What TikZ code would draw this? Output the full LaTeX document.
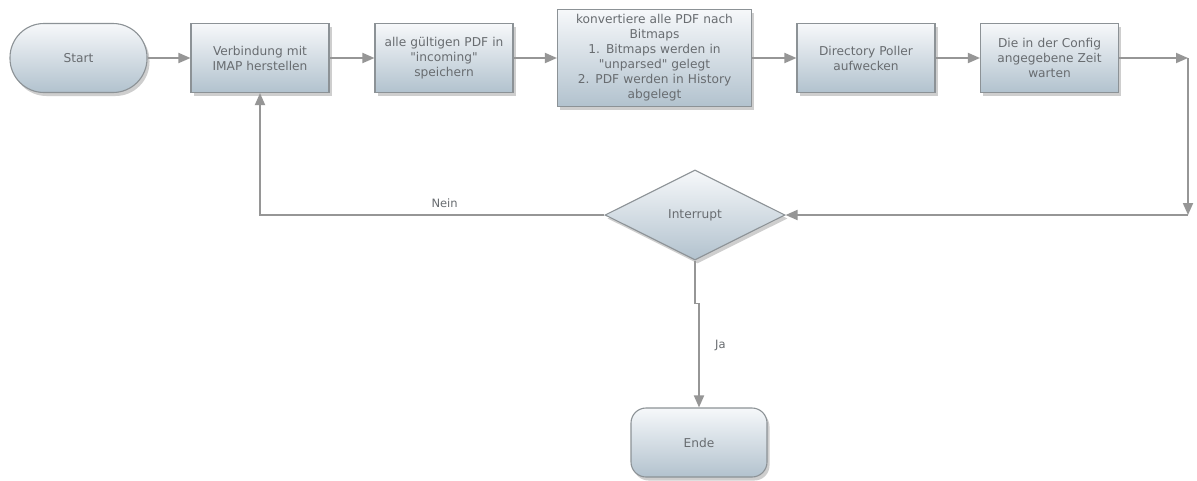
\documentclass[tikz,border=0pt]{standalone}
\usepackage{fontspec}
\setmainfont{DejaVu Sans}[Ligatures=TeXOff]
\usetikzlibrary{arrows.meta,shapes.geometric,shadows,calc}

\definecolor{boxtop}{RGB}{246,248,250}
\definecolor{boxbot}{RGB}{178,194,206}
\definecolor{boxline}{RGB}{140,146,150}
\definecolor{wire}{RGB}{150,150,150}
\definecolor{txt}{RGB}{104,108,112}

\tikzset{
  shaded/.style={draw=boxline, line width=1.1pt, top color=boxtop, bottom color=boxbot,
    drop shadow={shadow xshift=2.5pt, shadow yshift=-3.5pt, opacity=.35, fill=black!55},
    text=txt, font=\fontsize{12.2}{15}\selectfont, align=center, inner sep=2pt},
  procbox/.style={shaded, rectangle, minimum width=136pt, minimum height=69pt, text width=134pt},
  pill/.style={shaded, rectangle, rounded corners=34pt, minimum width=137pt, minimum height=69pt},
  endbox/.style={shaded, rectangle, rounded corners=15pt, minimum width=136pt, minimum height=69pt},
  decision/.style={shaded, diamond, aspect=2, minimum width=180pt, minimum height=90pt, inner sep=0pt},
  arr/.style={draw=wire, line width=1.8pt, -{Triangle[length=12pt,width=10pt]}},
  lbl/.style={text=txt, font=\fontsize{11.5}{13}\selectfont}
}

\begin{document}
\begin{tikzpicture}[x=1pt, y=-1pt]
\useasboundingbox[fill=white] (0,0) rectangle (1197,480);

% process chain along the top
\node[pill]     (start) at (78.5,58)  {Start};
\node[procbox]  (b1)    at (260,58)   {Verbindung mit\\IMAP herstellen};
\node[procbox]  (b2)    at (444,58)   {alle gültigen PDF in\\"incoming"\\speichern};
\node[procbox, minimum width=193pt, minimum height=97pt, text width=190pt]
                (b3)    at (654.5,58) {konvertiere alle PDF nach\\Bitmaps\\1. Bitmaps werden in\\"unparsed" gelegt\\2. PDF werden in History\\abgelegt};
\node[procbox]  (b4)    at (866,58)   {Directory Poller\\aufwecken};
\node[procbox]  (b5)    at (1049.5,58){Die in der Config\\angegebene Zeit\\warten};

% decision and end
\node[decision] (intr)  at (695,215)    {Interrupt};
\node[endbox]   (ende)  at (699,442.5)  {Ende};

\coordinate (c1) at (1188,58);
\coordinate (c2) at (1188,215);

% connectors
\draw[arr] (start.east) -- (b1.west);
\draw[arr] (b1.east) -- (b2.west);
\draw[arr] (b2.east) -- (b3.west);
\draw[arr] (b3.east) -- (b4.west);
\draw[arr] (b4.east) -- (b5.west);
\draw[arr] (b5.east) -- (c1);
\draw[arr] (c1) -- (c2);
\draw[arr] (c2) -- (intr.east);

\draw[arr] (intr.west) -| node[lbl, pos=0.232, above=3pt] {Nein} (b1.south);
\draw[arr] (intr.south) -- ++(0,43) -| node[lbl, pos=0.7, right=12pt] {Ja} (ende.north);

\end{tikzpicture}
\end{document}
